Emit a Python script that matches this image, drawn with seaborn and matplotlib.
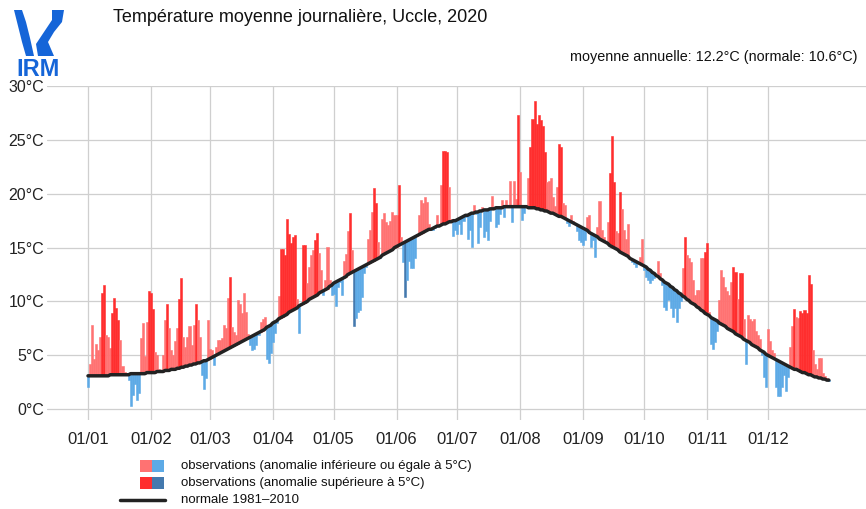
import numpy as np
import pandas as pd
import matplotlib
matplotlib.use("Agg")
import matplotlib.pyplot as plt
import seaborn as sns
from matplotlib.patches import Rectangle, Polygon
from matplotlib.lines import Line2D

# ---------------- data ----------------
obs_jan = [2.1, 4.2, 7.8, 4.7, 6.1, 5.5, 6.7, 10.8, 11.5, 6.9, 6.7, 5.7, 8.9, 10.3, 9.4, 8.3, 6.4, 4.0, 3.5, 3.3,
           2.7, 0.3, 1.3, 2.3, 0.9, 1.5, 6.6, 8.0, 4.9, 8.1, 11.0]
obs_feb = [10.8, 9.3, 5.3, 5.0, 3.7, 3.6, 5.0, 8.3, 9.8, 7.5, 5.5, 5.0, 6.3, 7.5, 10.2, 12.2, 6.7, 5.8, 6.7, 7.7,
           6.0, 7.8, 9.8, 8.3, 6.7, 3.2, 1.9, 2.9, 8.3]
obs_mar = [5.6, 5.5, 4.1, 5.8, 6.4, 6.4, 6.6, 7.8, 7.5, 10.3, 12.3, 7.6, 7.2, 6.9, 10.1, 9.8, 8.9, 10.8, 9.0, 7.0,
           6.0, 5.5, 5.6, 6.0, 6.9, 8.1, 8.4, 8.6, 4.7, 4.3, 5.2]
obs_apr = [6.2, 7.1, 8.0, 10.5, 14.9, 14.9, 14.3, 17.7, 16.3, 15.4, 16.0, 16.2, 10.2, 7.1, 9.8, 15.2, 15.2, 11.7,
           13.2, 14.3, 14.8, 15.7, 16.4, 14.5, 12.9, 10.6, 12.0, 15.1, 12.0, 10.6]
obs_may = [10.7, 9.6, 11.3, 11.8, 10.6, 13.8, 14.4, 16.5, 18.2, 14.8, 7.7, 8.5, 9.0, 9.2, 10.4, 12.6, 13.2, 15.8,
           16.6, 18.3, 20.5, 19.1, 15.5, 14.0, 17.7, 18.2, 17.4, 17.1, 17.5, 18.3, 18.0]
obs_jun = [18.0, 20.8, 16.0, 13.7, 10.4, 12.0, 13.8, 13.1, 13.1, 14.0, 16.3, 18.0, 19.4, 19.1, 19.7, 19.2, 17.2,
           16.6, 16.6, 16.8, 18.0, 17.2, 20.8, 24.0, 24.0, 23.9, 20.6, 17.7, 16.1, 16.6]
obs_jul = [16.3, 17.2, 16.3, 17.5, 17.8, 15.8, 16.6, 15.1, 19.0, 18.1, 15.4, 16.9, 18.8, 16.0, 16.5, 15.7, 17.5,
           19.8, 18.6, 16.9, 17.2, 18.1, 19.4, 17.8, 19.4, 19.0, 21.2, 17.4, 21.2, 19.5, 27.3]
obs_aug = [22.0, 17.6, 18.2, 18.9, 21.5, 24.3, 26.9, 28.6, 26.5, 27.3, 26.8, 26.3, 23.9, 21.1, 21.2, 21.5, 19.7,
           18.9, 20.6, 24.6, 24.3, 19.1, 19.0, 17.3, 17.0, 18.0, 17.5, 17.2, 16.5, 15.7, 15.5]
obs_sep = [15.2, 15.7, 17.8, 18.0, 15.1, 15.7, 14.1, 16.9, 19.3, 16.6, 16.0, 15.6, 17.4, 21.9, 25.4, 21.1, 16.5,
           16.4, 20.2, 18.6, 16.6, 15.8, 17.2, 14.0, 13.7, 13.5, 13.2, 13.7, 14.1, 15.8]
obs_oct = [12.9, 12.3, 12.0, 11.7, 12.0, 12.2, 12.5, 13.8, 12.6, 11.5, 9.5, 9.2, 10.1, 9.4, 8.6, 9.4, 8.1, 9.4,
           10.0, 13.1, 16.0, 14.3, 14.0, 13.7, 12.0, 10.6, 11.1, 11.1, 14.0, 14.0, 14.6]
obs_nov = [15.4, 9.0, 6.1, 5.6, 6.2, 7.3, 10.1, 12.9, 12.3, 11.3, 11.0, 10.6, 11.8, 13.2, 12.7, 10.2, 12.6, 12.6,
           8.4, 4.2, 8.7, 8.4, 8.2, 8.4, 7.3, 6.9, 6.5, 5.0, 3.0, 2.1]
obs_dec = [7.4, 6.3, 5.5, 5.2, 2.1, 1.2, 1.2, 2.1, 3.2, 1.7, 3.0, 5.8, 7.7, 9.3, 8.6, 8.5, 9.1, 8.9, 9.2, 8.9,
           12.5, 11.6, 5.5, 4.2, 3.7, 4.8, 4.8, 3.4, 3.1, 2.9, 2.6]

norm_jan = [3.1, 3.1, 3.1, 3.1, 3.1, 3.1, 3.1, 3.1, 3.1, 3.1, 3.1, 3.2, 3.2, 3.2, 3.2, 3.2, 3.2, 3.2, 3.2, 3.2,
            3.2, 3.3, 3.3, 3.3, 3.3, 3.3, 3.3, 3.3, 3.3, 3.4, 3.4]
norm_feb = [3.4, 3.4, 3.4, 3.5, 3.5, 3.5, 3.5, 3.6, 3.6, 3.6, 3.7, 3.7, 3.7, 3.8, 3.8, 3.9, 3.9, 4.0, 4.0, 4.1,
            4.1, 4.2, 4.2, 4.3, 4.3, 4.4, 4.5, 4.5, 4.6]
norm_mar = [4.7, 4.8, 4.9, 5.0, 5.1, 5.2, 5.3, 5.4, 5.5, 5.6, 5.7, 5.8, 5.9, 6.0, 6.1, 6.2, 6.3, 6.4, 6.5, 6.6,
            6.7, 6.8, 6.9, 7.0, 7.1, 7.2, 7.3, 7.4, 7.6, 7.7, 7.8]
norm_apr = [8.0, 8.1, 8.2, 8.4, 8.5, 8.6, 8.7, 8.8, 9.0, 9.1, 9.2, 9.3, 9.4, 9.6, 9.7, 9.8, 9.9, 10.0, 10.2, 10.3,
            10.4, 10.5, 10.6, 10.8, 10.9, 11.0, 11.1, 11.2, 11.4, 11.5]
norm_may = [11.7, 11.8, 11.9, 12.0, 12.1, 12.2, 12.3, 12.5, 12.6, 12.7, 12.8, 12.9, 13.0, 13.1, 13.2, 13.3, 13.4,
            13.5, 13.6, 13.7, 13.8, 13.9, 14.0, 14.1, 14.3, 14.4, 14.5, 14.6, 14.7, 14.8, 15.0]
norm_jun = [15.1, 15.2, 15.3, 15.4, 15.5, 15.6, 15.7, 15.8, 15.9, 16.0, 16.1, 16.2, 16.3, 16.4, 16.5, 16.6, 16.7,
            16.7, 16.8, 16.9, 17.0, 17.0, 17.1, 17.2, 17.2, 17.3, 17.4, 17.4, 17.5, 17.5]
norm_jul = [17.6, 17.7, 17.8, 17.9, 18.0, 18.0, 18.1, 18.2, 18.2, 18.3, 18.3, 18.4, 18.4, 18.5, 18.5, 18.5, 18.6,
            18.6, 18.6, 18.7, 18.7, 18.7, 18.7, 18.8, 18.8, 18.8, 18.8, 18.8, 18.8, 18.8, 18.8]
norm_aug = [18.8, 18.8, 18.8, 18.8, 18.7, 18.7, 18.7, 18.7, 18.6, 18.6, 18.5, 18.5, 18.4, 18.4, 18.3, 18.2, 18.2,
            18.1, 18.0, 17.9, 17.9, 17.8, 17.7, 17.6, 17.5, 17.4, 17.3, 17.2, 17.1, 17.0, 16.9]
norm_sep = [16.8, 16.7, 16.6, 16.4, 16.3, 16.2, 16.1, 16.0, 15.8, 15.7, 15.6, 15.5, 15.4, 15.2, 15.1, 15.0, 14.9,
            14.8, 14.6, 14.5, 14.4, 14.3, 14.2, 14.0, 13.9, 13.8, 13.7, 13.6, 13.5, 13.4]
norm_oct = [13.3, 13.2, 13.0, 12.9, 12.7, 12.6, 12.4, 12.3, 12.1, 12.0, 11.8, 11.7, 11.6, 11.4, 11.3, 11.1, 11.0,
            10.8, 10.7, 10.5, 10.4, 10.2, 10.1, 9.9, 9.8, 9.7, 9.5, 9.4, 9.2, 9.1, 8.9]
norm_nov = [8.8, 8.7, 8.5, 8.4, 8.3, 8.2, 8.0, 7.9, 7.8, 7.7, 7.5, 7.4, 7.3, 7.2, 7.0, 6.9, 6.8, 6.7, 6.5, 6.4,
            6.3, 6.2, 6.0, 5.9, 5.8, 5.7, 5.5, 5.4, 5.3, 5.1]
norm_dec = [5.0, 4.9, 4.8, 4.7, 4.6, 4.5, 4.4, 4.3, 4.2, 4.1, 4.0, 3.9, 3.8, 3.7, 3.7, 3.6, 3.5, 3.4, 3.4, 3.3,
            3.2, 3.2, 3.1, 3.0, 3.0, 2.9, 2.9, 2.8, 2.8, 2.7, 2.7]

month_labels = ["01/01", "01/02", "01/03", "01/04", "01/05", "01/06",
                "01/07", "01/08", "01/09", "01/10", "01/11", "01/12"]
y_ticks = [0, 5, 10, 15, 20, 25, 30]
y_labels = ["0°C", "5°C", "10°C", "15°C", "20°C", "25°C", "30°C"]

title = "Température moyenne journalière, Uccle, 2020"
subtitle = "moyenne annuelle: 12.2°C (normale: 10.6°C)"
legend_labels = ["observations (anomalie inférieure ou égale à 5°C)",
                 "observations (anomalie supérieure à 5°C)",
                 "normale 1981\u20132010"]

# ---------------- build table ----------------
obs_months = [obs_jan, obs_feb, obs_mar, obs_apr, obs_may, obs_jun,
              obs_jul, obs_aug, obs_sep, obs_oct, obs_nov, obs_dec]
norm_months = [norm_jan, norm_feb, norm_mar, norm_apr, norm_may, norm_jun,
               norm_jul, norm_aug, norm_sep, norm_oct, norm_nov, norm_dec]
obs = [v for m in obs_months for v in m]
norm = [v for m in norm_months for v in m]
month_len = [len(m) for m in obs_months]
month_start = list(np.cumsum([0] + month_len[:-1]))

df = pd.DataFrame({"day": np.arange(len(obs)), "obs": obs, "norm": norm})
df["anom"] = df["obs"] - df["norm"]

LIGHT_RED = "#FF7272"
DARK_RED = "#FF2E2E"
LIGHT_BLUE = "#5DAAE6"
DARK_BLUE = "#4479AE"

def pick(a):
    if a > 5:
        return DARK_RED
    if a >= 0:
        return LIGHT_RED
    if a >= -5:
        return LIGHT_BLUE
    return DARK_BLUE

df["color"] = [pick(a) for a in df["anom"]]

# ---------------- figure ----------------
sns.set_theme(style="white")
plt.rcParams["font.family"] = ["Liberation Sans", "DejaVu Sans"]

W, H = 866, 509
fig = plt.figure(figsize=(W / 100, H / 100), dpi=100)
fig.patch.set_facecolor("white")

def fx(px):
    return px / W

def fy(py):
    return 1 - py / H

ax = fig.add_axes([fx(47), fy(420), fx(866) - fx(47), fy(86) - fy(420)])
ax.set_facecolor("white")

ax.bar(df["day"], df["anom"], bottom=df["norm"], width=1.0, color=df["color"],
       edgecolor=df["color"], linewidth=0.4, zorder=2)
sns.lineplot(data=df, x="day", y="norm", ax=ax, color="#222222", linewidth=2.5,
             zorder=3, legend=False)

ax.set_xlim(-20.2, 383.3)
ax.set_ylim(-1, 30)
ax.set_xticks(month_start)
ax.set_xticklabels(month_labels)
ax.set_yticks(y_ticks)
ax.set_yticklabels(y_labels)
ax.set_xlabel("")
ax.set_ylabel("")
ax.grid(True, color="#cfcfcf", linewidth=0.9, zorder=0)
ax.set_axisbelow(True)
for s in ax.spines.values():
    s.set_visible(False)
ax.tick_params(axis="x", length=0, pad=9, labelsize=12, colors="#222222")
ax.tick_params(axis="y", length=0, pad=2, labelsize=11.5, colors="#222222")

# titles
fig.text(fx(113), fy(18), title, ha="left", va="center", fontsize=13, color="#111111")
fig.text(fx(858), fy(57), subtitle, ha="right", va="center", fontsize=10.4, color="#111111")

# legend (drawn manually in figure pixels)
rows = [(466, LIGHT_RED, LIGHT_BLUE), (483, DARK_RED, DARK_BLUE)]
for yc, c1, c2 in rows:
    fig.patches.append(Rectangle((fx(140), fy(yc + 6)), fx(12), fy(yc - 6) - fy(yc + 6),
                                 transform=fig.transFigure, facecolor=c1, edgecolor="none"))
    fig.patches.append(Rectangle((fx(152), fy(yc + 6)), fx(12), fy(yc - 6) - fy(yc + 6),
                                 transform=fig.transFigure, facecolor=c2, edgecolor="none"))
fig.lines.append(Line2D([fx(120), fx(165)], [fy(500), fy(500)], transform=fig.transFigure,
                        color="#222222", linewidth=2.5))
for yc, lab in zip([466, 483, 500], legend_labels):
    fig.text(fx(181), fy(yc), lab, ha="left", va="center", fontsize=9.5, color="#111111")

# logo
LOGO = "#1565D8"
left_shape = [(14, 10), (22, 10), (26, 22), (30, 38), (34, 56), (26, 56), (22, 42), (18, 26)]
right_shape = [(52, 10), (64, 10), (62, 22), (54, 32), (48, 42), (54, 56), (38, 56), (36, 44), (44, 32), (52, 20)]
for shp in (left_shape, right_shape):
    fig.patches.append(Polygon([(fx(x), fy(y)) for x, y in shp], closed=True,
                               transform=fig.transFigure, facecolor=LOGO, edgecolor="none"))
fig.text(fx(38), fy(69), "IRM", ha="center", va="center", fontsize=17, fontweight="bold",
         color=LOGO)

fig.savefig("out.png", dpi=100, facecolor="white")
